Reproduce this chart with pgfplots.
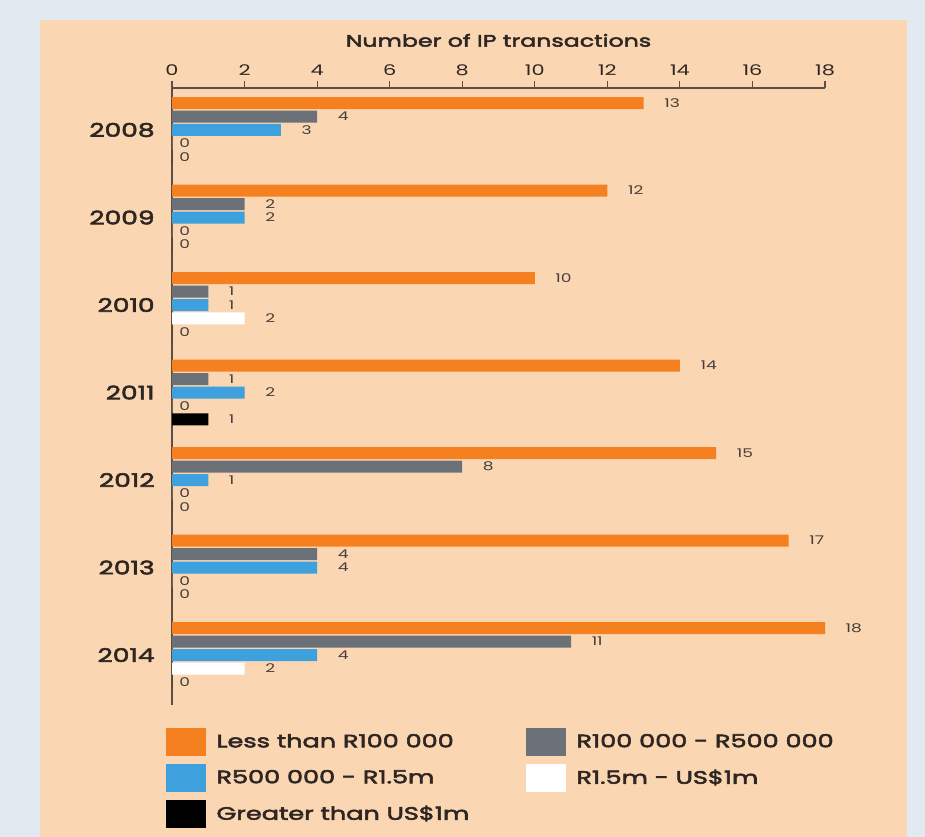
\documentclass[border=0pt]{standalone}
\usepackage{pgfplots}
\pgfplotsset{compat=1.18}
\usepackage{fontspec}
\setmainfont{Poppins}[FakeStretch=1.42]
\newfontfamily\medfont{Poppins}[FakeStretch=1.42, FakeBold=3]
\definecolor{peach}{RGB}{251,214,178}
\definecolor{outerbg}{RGB}{226,234,241}
\definecolor{borange}{RGB}{245,128,32}
\definecolor{bgray}{RGB}{108,113,120}
\definecolor{bblue}{RGB}{62,160,220}
\definecolor{axcol}{RGB}{90,78,70}
\definecolor{txt}{RGB}{45,38,34}
\definecolor{vtxt}{RGB}{70,62,58}
\pgfplotsset{/pgf/number format/assume math mode=true}
\begin{document}
\begin{tikzpicture}
\fill[outerbg] (0pt,0pt) rectangle (693.75pt,-627.75pt);
\fill[peach] (30pt,-15pt) rectangle (680pt,-627.75pt);
\useasboundingbox (0pt,0pt) rectangle (693.75pt,-627.75pt);
\begin{axis}[
  at={(129pt,-66pt)}, anchor=north west,
  scale only axis, width=489.75pt, height=462.75pt,
  xbar=0pt, bar width=9pt,
  xmin=0, xmax=18, ymin=-0.571, ymax=6.48,
  axis x line=top, axis y line=left,
  axis line style={axcol, line width=1.2pt, -},
  xtick={0,2,...,18},
  ytick={0,1,2,3,4,5,6},
  yticklabels={2014,2013,2012,2011,2010,2009,2008},
  xtick align=outside,
  major tick length=5pt,
  xtick style={axcol, line width=0.8pt},
  ytick style={draw=none},
  xticklabel style={font=\fontsize{11}{12}\selectfont, text=txt, anchor=base, yshift=4pt},
  yticklabel style={font=\medfont\fontsize{14}{16}\selectfont, text=txt, xshift=-7pt},
  title={Number of IP transactions},
  title style={at={(axis description cs:0.5,1)}, anchor=base, yshift=25pt, font=\medfont\fontsize{12.5}{14}\selectfont, text=txt},
  point meta=x,
  visualization depends on={x \as \rawx},
  nodes near coords,
  nodes near coords style={font=\fontsize{9}{10}\selectfont, text=vtxt, anchor=west, xshift={ifthenelse(\rawx==0,2,12)}},
  legend columns=2,
  legend cell align=left,
  legend style={at={(axis description cs:-0.016,-0.032)}, anchor=north west, draw=none, fill=none,
    font=\medfont\fontsize{13.5}{15}\selectfont, text=txt, row sep=6pt, column sep=0pt},
  legend image code/.code={\fill[#1] (0pt,-10.5pt) rectangle (30pt,10.5pt);},
]
\addplot[fill=borange, draw=none, bar shift=20.2pt] coordinates {(13,6) (12,5) (10,4) (14,3) (15,2) (17,1) (18,0)};
\addlegendentry{\makebox[236pt][l]{\hspace{6pt}Less than R100 000}}
\addplot[fill=bgray, draw=none, bar shift=10.1pt] coordinates {(4,6) (2,5) (1,4) (1,3) (8,2) (4,1) (11,0)};
\addlegendentry{\hspace{6pt}R100 000 - R500 000}
\addplot[fill=bblue, draw=none, bar shift=0pt] coordinates {(3,6) (2,5) (1,4) (2,3) (1,2) (4,1) (4,0)};
\addlegendentry{\makebox[236pt][l]{\hspace{6pt}R500 000 - R1.5m}}
\addplot[fill=white, draw=none, bar shift=-10.1pt] coordinates {(0,6) (0,5) (2,4) (0,3) (0,2) (0,1) (2,0)};
\addlegendentry{\hspace{6pt}R1.5m - US\$1m}
\addplot[fill=black, draw=none, bar shift=-20.2pt] coordinates {(0,6) (0,5) (0,4) (1,3) (0,2) (0,1) (0,0)};
\addlegendentry{\makebox[236pt][l]{\hspace{6pt}Greater than US\$1m}}
\end{axis}
\end{tikzpicture}
\end{document}
